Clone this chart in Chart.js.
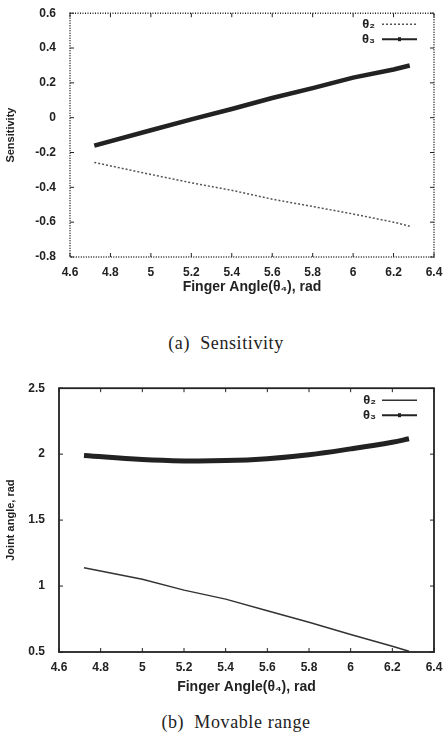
<!DOCTYPE html>
<html>
<head>
<meta charset="utf-8">
<script src="https://cdn.jsdelivr.net/npm/chart.js@4.4.1/dist/chart.umd.min.js"></script>
<style>
  body { margin: 0; background: #fff; width: 444px; height: 738px; position: relative; overflow: hidden; }
  .box { position: absolute; left: 0; width: 444px; }
  .cap { position: absolute; left: 0; width: 444px; text-align: center; font-family: "Liberation Serif", "DejaVu Serif", serif; font-size: 18px; letter-spacing: 0.6px; color: #222; }
</style>
</head>
<body>
<div class="box" style="top:0;height:300px"><canvas id="sensChart"></canvas></div>
<div class="cap" style="top:333px;left:4px">(a)&nbsp; Sensitivity</div>
<div class="box" style="top:375px;height:325px"><canvas id="jointChart"></canvas></div>
<div class="cap" style="top:712px;left:14px">(b)&nbsp; Movable range</div>
<script>
// finger angle samples (rad)
const fingerAngle = [4.72, 5.0, 5.2, 5.4, 5.6, 5.8, 6.0, 6.2, 6.28];
// (a) sensitivity
const sensTheta2 = [-0.257, -0.326, -0.374, -0.417, -0.468, -0.51, -0.553, -0.6, -0.623];
const sensTheta3 = [-0.16, -0.072, -0.01, 0.05, 0.113, 0.17, 0.23, 0.277, 0.30];
// (b) joint angles
const jointTheta2 = [1.139, 1.051, 0.969, 0.901, 0.813, 0.726, 0.633, 0.543, 0.505];
const jointTheta3 = [1.99, 1.959, 1.949, 1.951, 1.966, 1.996, 2.04, 2.09, 2.117];
const seriesLabels = ['θ₂', 'θ₃'];
const xTitle = 'Finger Angle(θ₄), rad';

const tickFont = { family: 'Liberation Sans, DejaVu Sans, Arial', size: 12, weight: 'bold' };
const fmt = v => String(+v.toFixed(2));

function pts(ys) {
    return fingerAngle.map((x, i) => ({ x: x, y: ys[i] }));
}

// gnuplot-like frame: border, inward ticks, legend inside the plot
const framePlugin = {
    id: 'frame',
    afterDraw(chart, args, opts) {
        const ctx = chart.ctx;
        const a = chart.chartArea;
        const sx = chart.scales.x, sy = chart.scales.y;
        ctx.save();
        ctx.strokeStyle = '#222';
        ctx.lineWidth = opts.borderWidth || 1.5;
        ctx.setLineDash(opts.dash || []);
        ctx.strokeRect(a.left, a.top, a.right - a.left, a.bottom - a.top);
        ctx.setLineDash([]);
        ctx.lineWidth = 1;
        sx.ticks.forEach(t => {
            const px = sx.getPixelForValue(t.value);
            ctx.beginPath();
            ctx.moveTo(px, a.bottom); ctx.lineTo(px, a.bottom - 4);
            ctx.moveTo(px, a.top); ctx.lineTo(px, a.top + 4);
            ctx.stroke();
        });
        sy.ticks.forEach(t => {
            const py = sy.getPixelForValue(t.value);
            ctx.beginPath();
            ctx.moveTo(a.left, py); ctx.lineTo(a.left + 4, py);
            ctx.moveTo(a.right, py); ctx.lineTo(a.right - 4, py);
            ctx.stroke();
        });
        // legend
        ctx.font = 'bold 13px Liberation Sans, DejaVu Sans, Arial';
        ctx.textAlign = 'right';
        ctx.textBaseline = 'middle';
        chart.data.datasets.forEach((ds, i) => {
            const y = a.top + opts.legendTop + i * 15;
            ctx.fillStyle = '#222';
            ctx.fillText(ds.label, a.right - opts.labelGap, y);
            ctx.strokeStyle = ds.borderColor;
            ctx.lineWidth = Math.min(ds.borderWidth, 2);
            ctx.setLineDash(ds.borderDash || []);
            ctx.beginPath();
            ctx.moveTo(a.right - 52, y); ctx.lineTo(a.right - 17, y);
            ctx.stroke();
            ctx.setLineDash([]);
            if (i === 1) {
                ctx.fillStyle = '#222';
                ctx.fillRect(a.right - 36, y - 2, 3, 4);
            }
        });
        ctx.restore();
    }
};

function makeChart(id, ds, yMin, yMax, yStep, yTitle, yWidth, xHeight, padTop, xPad, frameOpts) {
    return new Chart(document.getElementById(id), {
        type: 'scatter',
        data: { datasets: ds },
        plugins: [framePlugin],
        options: {
            responsive: true,
            maintainAspectRatio: false,
            animation: false,
            layout: { padding: { top: padTop, right: 10, left: 0, bottom: 0 } },
            plugins: {
                legend: { display: false },
                tooltip: { enabled: false },
                frame: frameOpts
            },
            scales: {
                x: {
                    type: 'linear', min: 4.6, max: 6.4,
                    afterFit: s => { s.height = xHeight; },
                    grid: { display: false },
                    border: { display: false },
                    ticks: { stepSize: 0.2, callback: fmt, font: tickFont, color: '#222', padding: xPad, maxRotation: 0 },
                    title: { display: true, text: xTitle, font: { family: 'Liberation Sans, DejaVu Sans, Arial', size: 14, weight: 'bold' }, color: '#222', padding: { top: 2 } }
                },
                y: {
                    min: yMin, max: yMax,
                    afterFit: s => { s.width = yWidth; },
                    grid: { display: false },
                    border: { display: false },
                    ticks: { stepSize: yStep, callback: fmt, font: tickFont, color: '#222', padding: 6 },
                    title: { display: true, text: yTitle, font: { family: 'Liberation Sans, DejaVu Sans, Arial', size: 11, weight: 'bold' }, color: '#222', padding: { bottom: 2 } }
                }
            }
        }
    });
}

makeChart('sensChart', [
    { label: seriesLabels[0], data: pts(sensTheta2), showLine: true, borderColor: '#555', borderWidth: 1.5, borderDash: [2, 2], pointRadius: 0, tension: 0 },
    { label: seriesLabels[1], data: pts(sensTheta3), showLine: true, borderColor: '#222', borderWidth: 4.5, pointRadius: 0, tension: 0 }
], -0.8, 0.6, 0.2, 'Sensitivity', 70, 43, 10, 0, { dash: [1, 1.5], borderWidth: 1.5, legendTop: 11, labelGap: 59 });

makeChart('jointChart', [
    { label: seriesLabels[0], data: pts(jointTheta2), showLine: true, borderColor: '#333', borderWidth: 1.5, pointRadius: 0, tension: 0 },
    { label: seriesLabels[1], data: pts(jointTheta3), showLine: true, borderColor: '#222', borderWidth: 5, pointRadius: 0, tension: 0.4 }
], 0.5, 2.5, 0.5, 'Joint angle, rad', 59, 48, 11, 0, { borderWidth: 1.8, legendTop: 12, labelGap: 58 });
</script>
</body>
</html>
